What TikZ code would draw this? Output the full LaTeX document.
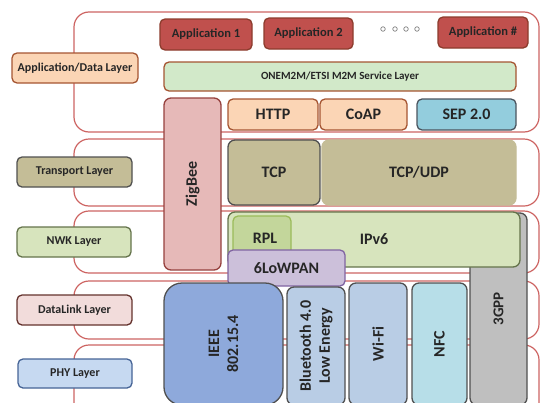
\documentclass[tikz,border=0pt]{standalone}
\usepackage{fontspec}
\setmainfont{Carlito}
\usetikzlibrary{positioning}
\definecolor{txt}{RGB}{38,38,38}
\definecolor{bandred}{RGB}{205,100,98}
\definecolor{appfill}{RGB}{192,80,77}
\definecolor{appline}{RGB}{140,60,45}
\definecolor{peach}{RGB}{251,213,181}
\definecolor{brownln}{RGB}{165,85,50}
\definecolor{svcgreen}{RGB}{210,233,201}
\definecolor{sepblue}{RGB}{147,205,221}
\definecolor{sepline}{RGB}{75,85,95}
\definecolor{zigfill}{RGB}{230,185,184}
\definecolor{zigline}{RGB}{150,65,62}
\definecolor{khaki}{RGB}{196,189,151}
\definecolor{darkln}{RGB}{80,80,80}
\definecolor{nwkgreen}{RGB}{215,228,189}
\definecolor{nwkline}{RGB}{100,115,75}
\definecolor{rplfill}{RGB}{195,214,155}
\definecolor{rplline}{RGB}{155,187,89}
\definecolor{lowfill}{RGB}{204,192,218}
\definecolor{lowline}{RGB}{128,100,162}
\definecolor{dlfill}{RGB}{242,220,219}
\definecolor{dlline}{RGB}{100,50,45}
\definecolor{phyfill}{RGB}{198,217,241}
\definecolor{phyline}{RGB}{70,100,150}
\definecolor{ieeefill}{RGB}{142,169,219}
\definecolor{btfill}{RGB}{185,205,229}
\definecolor{nfcfill}{RGB}{183,222,232}
\definecolor{gppfill}{RGB}{191,191,191}
\tikzset{
stack/.style={x=1pt,y=-1pt,text=txt},
dim/.style 2 args={minimum width=#1pt,minimum height=#2pt},
blk/.style={rectangle,rounded corners=7pt,draw,line width=1.3pt,inner sep=0pt,
    align=center,font=\bfseries\fontsize{16}{19}\selectfont},
band/.style={rectangle,rounded corners=15pt,draw=bandred,line width=1.2pt,inner sep=0pt},
layer/.style={blk,rounded corners=5pt,font=\bfseries\fontsize{12}{14}\selectfont},
app/.style={blk,fill=appfill,draw=appline,rounded corners=5pt,
    font=\bfseries\fontsize{12.5}{14}\selectfont},
proto/.style={blk,fill=peach,draw=brownln,rounded corners=5pt},
dot/.style={circle,draw=gray,line width=.7pt,inner sep=0pt,minimum size=4.5pt},
}
\begin{document}
\begin{tikzpicture}[stack]
\clip (0,0) rectangle (541,402);
% layer bands
\node[band,dim={465}{120}] (bapp) at (306.5,72) {};
\node[band,dim={465}{67}] (btrn) at (306.5,172.5) {};
\node[band,dim={465}{62}] (bnwk) at (306.5,242) {};
\node[band,dim={465}{58}] (bdl) at (306.5,310) {};
\node[band,dim={465}{75}] (bphy) at (306.5,382.5) {};
% layer names
\node[layer,fill=peach,draw=brownln,dim={126}{30}] (lapp) at (75,68) {Application/Data Layer};
\node[layer,fill=khaki,draw=darkln,dim={115}{30}] (ltrn) at (74.5,172) {Transport Layer};
\node[layer,fill=nwkgreen,draw=nwkline,dim={114}{30}] (lnwk) at (74,242) {NWK Layer};
\node[layer,fill=dlfill,draw=dlline,dim={115}{30}] (ldl) at (74.5,310) {DataLink Layer};
\node[layer,fill=phyfill,draw=phyline,dim={114}{29}] (lphy) at (75,373.5) {PHY Layer};
% applications
\node[app,dim={92}{31}] (app1) at (206,34.5) {Application 1};
\node[app,dim={89}{31}] (app2) at (308.5,33.5) {Application 2};
\node[app,dim={90}{31}] (appn) at (483,32.5) {Application \#};
\foreach \x [count=\i] in {383,395,406,417}
    \node[dot] (dot\i) at (\x,29) {};
\node[blk,fill=svcgreen,draw=brownln,rounded corners=5pt,dim={352}{29},
    font=\bfseries\fontsize{11}{13}\selectfont] (svc) at (340,76.5) {ONEM2M/ETSI M2M Service Layer};
\node[proto,dim={90}{31}] (http) at (273,114.5) {HTTP};
\node[proto,dim={87}{31}] (coap) at (363.5,114.5) {CoAP};
\node[blk,fill=sepblue,draw=sepline,rounded corners=5pt,dim={99}{31}] (sep) at (466.5,114.5) {SEP 2.0};
\node[blk,fill=zigfill,draw=zigline,rotate=90,dim={172}{57}] (zig) at (192.5,184) {ZigBee};
% transport
\node[blk,fill=khaki,draw=darkln,dim={92}{65}] (tcp) at (274,172.5) {TCP};
\node[blk,fill=khaki,draw=khaki,dim={194}{65}] (tcpudp) at (419,172.5) {TCP/UDP};
% network
\node[blk,fill=gppfill,draw=darkln,rotate=90,dim={192}{57},
    font=\bfseries\fontsize{15}{18}\selectfont] (gpp) at (498.5,309) {3GPP};
\node[blk,fill=nwkgreen,draw=nwkline,dim={292}{55}] (ipv6) at (374,239.5) {IPv6};
\node[blk,fill=rplfill,draw=rplline,rounded corners=5pt,dim={58}{42}] (rpl) at (262,237) {};
\node[font=\bfseries\fontsize{16}{19}\selectfont] (rpltxt) at (265,238) {RPL};
\node[blk,fill=lowfill,draw=lowline,rounded corners=5pt,dim={117}{36}] (lowpan) at (286.5,268) {6LoWPAN};
% link and phy
\node[blk,fill=ieeefill,draw=darkln,rounded corners=18pt,rotate=90,dim={122}{119}] (ieee) at (223.5,344) {IEEE\\802.15.4};
\node[blk,fill=btfill,draw=darkln,rotate=90,dim={118}{58}] (bt) at (316,346) {Bluetooth 4.0\\Low Energy};
\node[blk,fill=btfill,draw=darkln,rotate=90,dim={122}{58}] (wifi) at (378,344) {Wi-Fi};
\node[blk,fill=nfcfill,draw=darkln,rotate=90,dim={122}{55}] (nfc) at (439.5,344) {NFC};
\end{tikzpicture}
\end{document}
